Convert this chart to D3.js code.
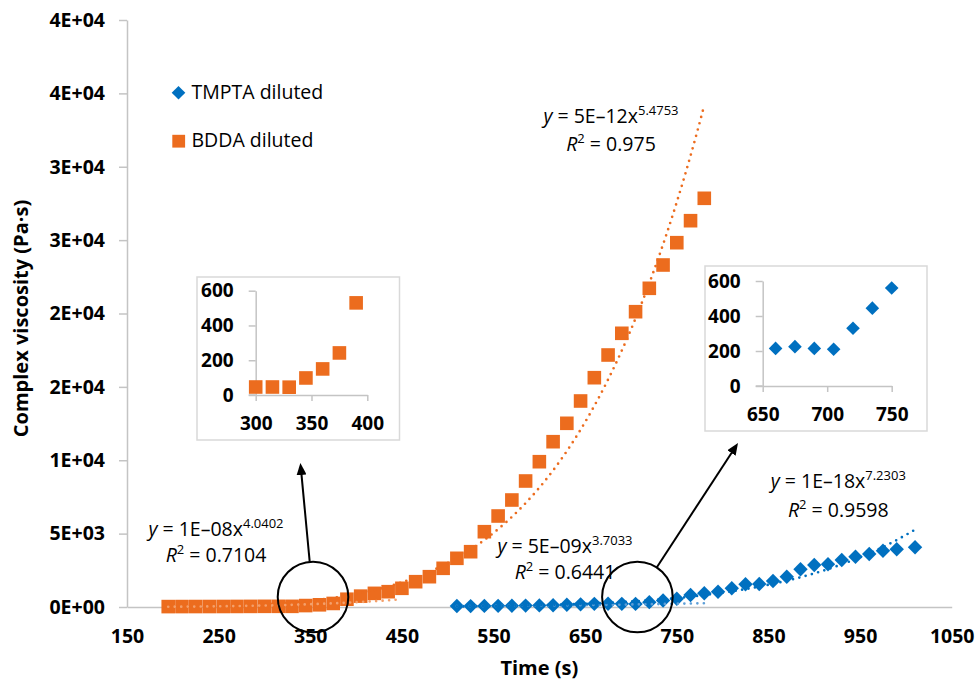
<!DOCTYPE html>
<html>
<head>
<meta charset="utf-8">
<script src="https://cdn.jsdelivr.net/npm/d3@7"></script>
<style>
  body { margin: 0; background: #fff; }
  svg { display: block; font-family: "Open Sans", sans-serif; }
</style>
</head>
<body>
<svg id="chart" width="976" height="682"></svg>
<script>
// ---- data -------------------------------------------------------------
const bddaTime = [195, 210, 225, 240, 255, 270, 285, 300, 315, 330, 345, 360, 375, 390,
  405, 420, 435, 450, 465, 480, 495, 510, 525, 540, 555, 570, 585, 600, 615, 630,
  645, 660, 675, 690, 705, 720, 735, 750, 765, 780];
const bddaVisc = [28, 30, 32, 33, 35, 38, 42, 46, 46, 45, 98, 150, 242, 530,
  740, 930, 1043, 1274, 1724, 2065, 2637, 3318, 3768, 5131, 6201, 7291, 8586, 9901, 11264, 12518,
  14038, 15625, 17172, 18651, 20123, 21717, 23305, 24825, 26324, 27850];

const tmptaTime = [510, 525, 540, 555, 570, 585, 600, 615, 630, 645, 660, 675, 690, 705,
  720, 735, 750, 765, 780, 795, 810, 825, 840, 855, 870, 885, 900, 915, 930, 945,
  960, 975, 990, 1010];
const tmptaVisc = [70, 60, 75, 80, 85, 95, 110, 120, 150, 180, 215, 225, 215, 210,
  330, 445, 560, 818, 934, 1043, 1274, 1547, 1567, 1772, 2065, 2569, 2862, 2910, 3203, 3428,
  3612, 3836, 3932, 4068];

const xTicks = [150, 250, 350, 450, 550, 650, 750, 850, 950, 1050];
const yTicks = [0, 5000, 10000, 15000, 20000, 25000, 30000, 35000, 40000];
const yTickLabels = ["0E+00", "5E+03", "1E+04", "2E+04", "2E+04", "3E+04", "3E+04", "4E+04", "4E+04"];

// power-law trendlines y = a·x^b
const fitSeries = ["BDDA", "BDDA", "TMPTA", "TMPTA"];
const fitCoef = ["5E-12", "1E-08", "5E-09", "1E-18"];
const fitExp = ["5.4753", "4.0402", "3.7033", "7.2303"];
const fitR2 = ["0.975", "0.7104", "0.6441", "0.9598"];
const fitFrom = [195, 195, 510, 510];
const fitTo = [780, 450, 780, 1010];

// zoomed windows shown in the two small panels
const bddaZoomX = [300, 400], bddaZoomTicks = [300, 350, 400];
const tmptaZoomX = [650, 750], tmptaZoomTicks = [650, 700, 750];
const zoomY = [0, 600], zoomYTicks = [0, 200, 400, 600];

// ---- style ------------------------------------------------------------
const ORANGE = "#EC6C1E", BLUE = "#0070C0";
const ORANGE_LIGHT = "#F4A06B", BLUE_LIGHT = "#5E9FD8";
const AXIS = "#C4C4C4";

const svg = d3.select("#chart");

const x = d3.scaleLinear().domain([150, 1050]).range([127, 951.7]);
const y = d3.scaleLinear().domain([0, 40000]).range([607, 20]);

function styleAxis(g, fs) {
  g.select(".domain").attr("stroke", AXIS).attr("stroke-width", 1.5);
  g.selectAll(".tick line").attr("stroke", AXIS).attr("stroke-width", 1.5);
  g.selectAll(".tick text").attr("fill", "#000").attr("font-size", fs)
    .attr("font-weight", 700).attr("font-family", "'Open Sans', sans-serif");
}

// axes
const gy = svg.append("g").attr("transform", `translate(${x(150)},0)`)
  .call(d3.axisLeft(y).tickValues(yTicks).tickFormat((d, i) => yTickLabels[i])
    .tickSize(8).tickSizeOuter(0).tickPadding(14));
styleAxis(gy, 19.5);

const gx = svg.append("g").attr("transform", `translate(0,${y(0)})`)
  .call(d3.axisBottom(x).tickValues(xTicks).tickFormat(d3.format("d"))
    .tickSize(0).tickSizeOuter(0).tickPadding(22));
styleAxis(gx, 19.5);

// axis titles
svg.append("text").attr("x", (x(150) + x(1050)) / 2).attr("y", 675)
  .attr("text-anchor", "middle").attr("font-size", 20).attr("font-weight", 700)
  .text("Time (s)");
svg.append("text").attr("transform", `translate(28,${(y(0) + y(40000)) / 2 + 5}) rotate(-90)`)
  .attr("text-anchor", "middle").attr("font-size", 20).attr("font-weight", 700)
  .text("Complex viscosity (Pa·s)");

// marker shapes
const diamond = r => `M0,${-r}L${r},0L0,${r}L${-r},0Z`;
const square = h => `M${-h},${-h}H${h}V${h}H${-h}Z`;

const bdda = bddaTime.map((t, i) => ({ t, v: bddaVisc[i] }));
const tmpta = tmptaTime.map((t, i) => ({ t, v: tmptaVisc[i] }));

// main markers
svg.append("g").selectAll("path").data(tmpta).join("path")
  .attr("d", diamond(7.2)).attr("fill", BLUE)
  .attr("transform", d => `translate(${x(d.t)},${y(d.v)})`);
svg.append("g").selectAll("path").data(bdda).join("path")
  .attr("d", square(6.8)).attr("fill", ORANGE)
  .attr("transform", d => `translate(${x(d.t)},${y(d.v)})`);

// trendlines
const line = d3.line().x(d => x(d[0])).y(d => y(d[1]));
const fitColor = [ORANGE, ORANGE_LIGHT, BLUE_LIGHT, BLUE];
fitCoef.forEach((c, i) => {
  const a = +c, b = +fitExp[i];
  const pts = d3.range(fitFrom[i], fitTo[i] + 0.01, 1).map(t => [t, a * Math.pow(t, b)]);
  svg.append("path").datum(pts).attr("d", line)
    .attr("fill", "none").attr("stroke", fitColor[i]).attr("stroke-width", 2.7)
    .attr("stroke-linecap", "round").attr("stroke-dasharray", "0 6.5");
});

// trendline equations
const eqPos = [[611, 122.7, 151], [216, 536, 561.7], [565, 553.3, 579.3], [838.3, 488.3, 516.7]];
fitCoef.forEach((c, i) => {
  const [cx, b1, b2] = eqPos[i];
  const t1 = svg.append("text").attr("x", cx).attr("y", b1)
    .attr("text-anchor", "middle").attr("font-size", 19.5).attr("fill", "#000");
  t1.append("tspan").attr("font-style", "italic").text("y");
  t1.append("tspan").text(" = " + c.replace("-", "–") + "x");
  t1.append("tspan").attr("font-size", 13).attr("dy", -8).text(fitExp[i]);
  const t2 = svg.append("text").attr("x", cx).attr("y", b2)
    .attr("text-anchor", "middle").attr("font-size", 19.5).attr("fill", "#000");
  t2.append("tspan").attr("font-style", "italic").text("R");
  t2.append("tspan").attr("font-size", 13).attr("dy", -8).text("2");
  t2.append("tspan").attr("dy", 8).text(" = " + fitR2[i]);
});

// legend
const legend = svg.append("g");
legend.append("path").attr("d", diamond(6.8)).attr("fill", BLUE)
  .attr("transform", "translate(178.5,92.7)");
legend.append("text").attr("x", 191.5).attr("y", 98.5).attr("font-size", 19.5).text("TMPTA diluted");
legend.append("path").attr("d", square(6.4)).attr("fill", ORANGE)
  .attr("transform", "translate(178.7,141.2)");
legend.append("text").attr("x", 191.5).attr("y", 147).attr("font-size", 19.5).text("BDDA diluted");

// small zoom panels
function panel(box, xr, yr, xDom, xTk, data, shape, color, shapeSize) {
  const g = svg.append("g");
  g.append("rect").attr("x", box[0]).attr("y", box[1])
    .attr("width", box[2] - box[0]).attr("height", box[3] - box[1])
    .attr("fill", "#fff").attr("stroke", "#D9D9D9").attr("stroke-width", 1.5);
  const px = d3.scaleLinear().domain(xDom).range(xr);
  const py = d3.scaleLinear().domain(zoomY).range(yr);
  const ay = g.append("g").attr("transform", `translate(${xr[0]},0)`)
    .call(d3.axisLeft(py).tickValues(zoomYTicks).tickSize(7).tickSizeOuter(0).tickPadding(15));
  styleAxis(ay, 19);
  const ax = g.append("g").attr("transform", `translate(0,${yr[0]})`)
    .call(d3.axisBottom(px).tickValues(xTk).tickSize(6).tickSizeOuter(0).tickPadding(15.5));
  styleAxis(ax, 19);
  // extend the horizontal axis under the left ticks
  g.append("line").attr("x1", xr[0] - 7).attr("x2", xr[0]).attr("y1", yr[0]).attr("y2", yr[0])
    .attr("stroke", AXIS).attr("stroke-width", 1.5);
  const inWin = data.filter(d => d.t >= xDom[0] && d.t <= xDom[1] && d.v <= zoomY[1]);
  g.append("g").selectAll("path").data(inWin).join("path")
    .attr("d", shape(shapeSize)).attr("fill", color)
    .attr("transform", d => `translate(${px(d.t)},${py(d.v)})`);
}
panel([197, 277, 399.5, 440], [255.7, 367.3], [395, 290.7], bddaZoomX, bddaZoomTicks, bdda, square, ORANGE, 6.8);
panel([705, 266, 927, 431], [762.7, 891.7], [386, 281], tmptaZoomX, tmptaZoomTicks, tmpta, diamond, BLUE, 6.8);

// circled regions with arrows pointing to the panels
const defs = svg.append("defs");
defs.append("marker").attr("id", "head").attr("markerUnits", "userSpaceOnUse")
  .attr("viewBox", "0 0 12 10").attr("refX", 4).attr("refY", 5)
  .attr("markerWidth", 12).attr("markerHeight", 10).attr("orient", "auto")
  .append("path").attr("d", "M0,0L12,5L0,10Z").attr("fill", "#000");

const callouts = [
  { t: 353, v: 680, tip: [300.4, 463] },
  { t: 707, v: 680, tip: [738, 443] }
];
const R = 35.3;
callouts.forEach(c => {
  const cx = x(c.t), cy = y(c.v);
  svg.append("circle").attr("cx", cx).attr("cy", cy).attr("r", R)
    .attr("fill", "none").attr("stroke", "#000").attr("stroke-width", 2);
  const dx = c.tip[0] - cx, dy = c.tip[1] - cy, len = Math.hypot(dx, dy);
  const ux = dx / len, uy = dy / len;
  svg.append("line")
    .attr("x1", cx + ux * R).attr("y1", cy + uy * R)
    .attr("x2", c.tip[0] - ux * 8).attr("y2", c.tip[1] - uy * 8)
    .attr("stroke", "#000").attr("stroke-width", 2).attr("marker-end", "url(#head)");
});
</script>
</body>
</html>
